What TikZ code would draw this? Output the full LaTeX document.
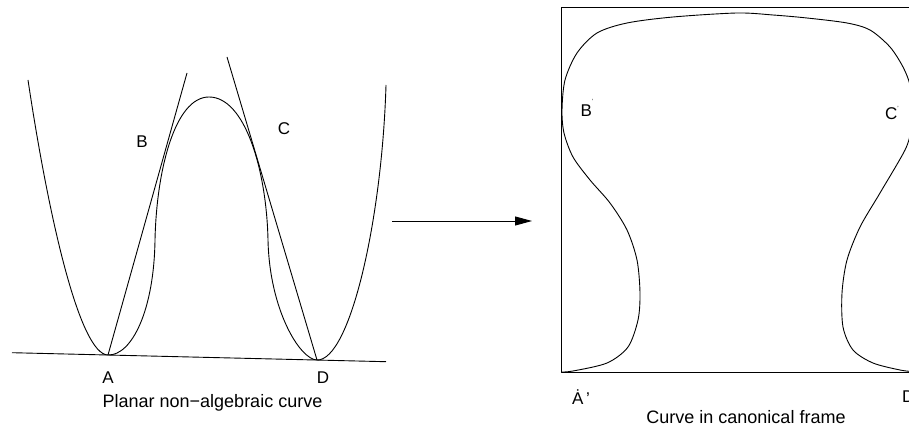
\documentclass[tikz,border=0pt]{standalone}
\usepackage{fontspec}
\setmainfont{Liberation Sans}
\usetikzlibrary{arrows.meta}
\begin{document}
\begin{tikzpicture}[x=1pt,y=-1pt,
  ln/.style={line width=0.9pt, line join=round},
  lbl/.style={font=\fontsize{17}{17}\selectfont, inner sep=0pt},
  captxt/.style={font=\fontsize{18}{18}\selectfont, inner sep=0pt}]
\useasboundingbox (0,0) rectangle (909,427);
\begin{scope}
\clip (0,0) rectangle (909,427);
% ---------- left: planar curve ----------
\coordinate (pA) at (108,355);
\coordinate (pD) at (317,360);
\coordinate (tB) at (187,73);
\coordinate (tC) at (227,57);
\coordinate (bl) at (12,352.7);
\coordinate (br) at (386,361.7);
\coordinate (lt) at (28,80);
\coordinate (rt) at (386,85);
\coordinate (pk) at (209,97);
\coordinate (v1) at (155,240);
\coordinate (v2) at (268,240);
\draw[ln] (lt) .. controls (49,220) and (80,354.5) .. (pA)
  .. controls (132,355.6) and (154,310) .. (v1)
  .. controls (156.5,170) and (175,97) .. (pk)
  .. controls (245,97) and (266.5,170) .. (v2)
  .. controls (269.5,310) and (300,359.6) .. (pD)
  .. controls (350,360.8) and (382,220) .. (rt);
\draw[ln] (pA) -- (tB);
\draw[ln] (pD) -- (tC);
\draw[ln] (bl) -- (br);
\node[lbl] (B) at (142,142) {B};
\node[lbl] (C) at (284,129) {C};
\node[lbl] (A) at (108,378) {A};
\node[lbl] (D) at (323,378) {D};
\node[captxt] (cap1) at (212.5,403) {Planar non\textminus algebraic curve};
% ---------- arrow ----------
\coordinate (a1) at (392,221);
\coordinate (a2) at (532,221);
\draw[ln, -{Triangle[length=17pt,width=9pt]}] (a1) -- (a2);
% ---------- right: canonical frame ----------
\draw[ln] (561,7) rectangle (925,372);
\draw[ln] plot[smooth, tension=0.5] coordinates {
 (561,372) (573,371) (607,363) (628,347) (638,320) (640,293) (637,260) (627,230)
 (610,203) (590,180) (573,157) (564,133) (562,110) (565,80) (577,53) (597,33)
 (627,23) (673,17) (737,13) (773,15) (807,18) (847,23) (870,30) (890,47) (903,67)
 (910,85) (913,110) (911,130) (905,150) (880,193) (860,227) (847,260) (842,293)
 (843,327) (853,350) (873,363) (900,370) (916,372)};
\node[lbl] (Bp) at (587,108) {B\raisebox{1.4ex}{\fontsize{6}{6}\selectfont '}};
\node[lbl] (Cp) at (892,113) {C\raisebox{0.9ex}{\fontsize{6}{6}\selectfont '}};
\node[lbl] (Ap) at (581,397) {\.{A}\,'};
\node[lbl, anchor=west] (Dp) at (902,397) {D'};
\node[captxt] (cap2) at (746,417) {Curve in canonical frame};
\end{scope}
\end{tikzpicture}
\end{document}
